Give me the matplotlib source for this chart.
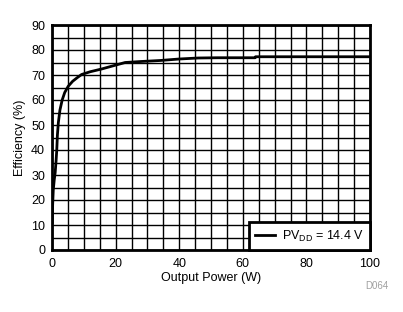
import numpy as np
import matplotlib
matplotlib.use("Agg")
from matplotlib import pyplot as plt

plt.rcParams['font.family'] = ['Liberation Sans', 'DejaVu Sans']

# Efficiency curve
power = [0.1, 0.2, 0.4, 0.7, 1.0, 1.3, 1.5, 1.7, 2.0, 2.5, 3.2, 4.0, 5.1, 6.5, 8.0, 9.3,
         12, 15.6, 19, 23, 28, 34, 40, 46, 52, 58, 63.9, 64, 70, 80, 90, 100]
eff = [11, 18, 24, 28, 31, 36, 40, 46, 51, 56, 60, 63, 65.5, 67.5, 69, 70.2,
       71.3, 72.4, 73.6, 75, 75.4, 75.8, 76.4, 76.8, 76.9, 76.9, 76.9, 77.3, 77.3, 77.3, 77.3, 77.3]

xticks = [0, 20, 40, 60, 80, 100]
yticks = [0, 10, 20, 30, 40, 50, 60, 70, 80, 90]

fig = plt.figure(figsize=(4.03, 3.12), dpi=100)
ax = fig.add_axes([52 / 403, 1 - 250 / 312, 318 / 403, 225 / 312])

ax.plot(power, eff, color='black', lw=2, label='PV$_{\\mathregular{DD}}$ = 14.4 V')

ax.set_xlim(0, 100)
ax.set_ylim(0, 90)
ax.set_xticks(xticks)
ax.set_yticks(yticks)
ax.set_xticks(np.arange(0, 101, 5), minor=True)
ax.set_yticks(np.arange(0, 91, 5), minor=True)
ax.grid(which='both', color='black', lw=1)
ax.set_axisbelow(True)
ax.tick_params(which='both', length=0, labelsize=9)
ax.tick_params(axis='x', pad=6)
ax.tick_params(axis='y', pad=5)
for s in ax.spines.values():
    s.set_linewidth(2)

ax.set_xlabel('Output Power (W)', fontsize=9, labelpad=1)
ax.set_ylabel('Efficiency (%)', fontsize=9, labelpad=4)

leg = ax.legend(loc='lower right', fontsize=9, frameon=True, fancybox=False,
                borderaxespad=0, handlelength=1.6, borderpad=0.5, handletextpad=0.5)
leg.get_frame().set_edgecolor('black')
leg.get_frame().set_linewidth(2)
leg.get_frame().set_alpha(1)

fig.text(377 / 403, 1 - 286 / 312, 'D064', fontsize=7, color='#a0a0a0', ha='center', va='center')

fig.savefig('out.png', dpi=100)
